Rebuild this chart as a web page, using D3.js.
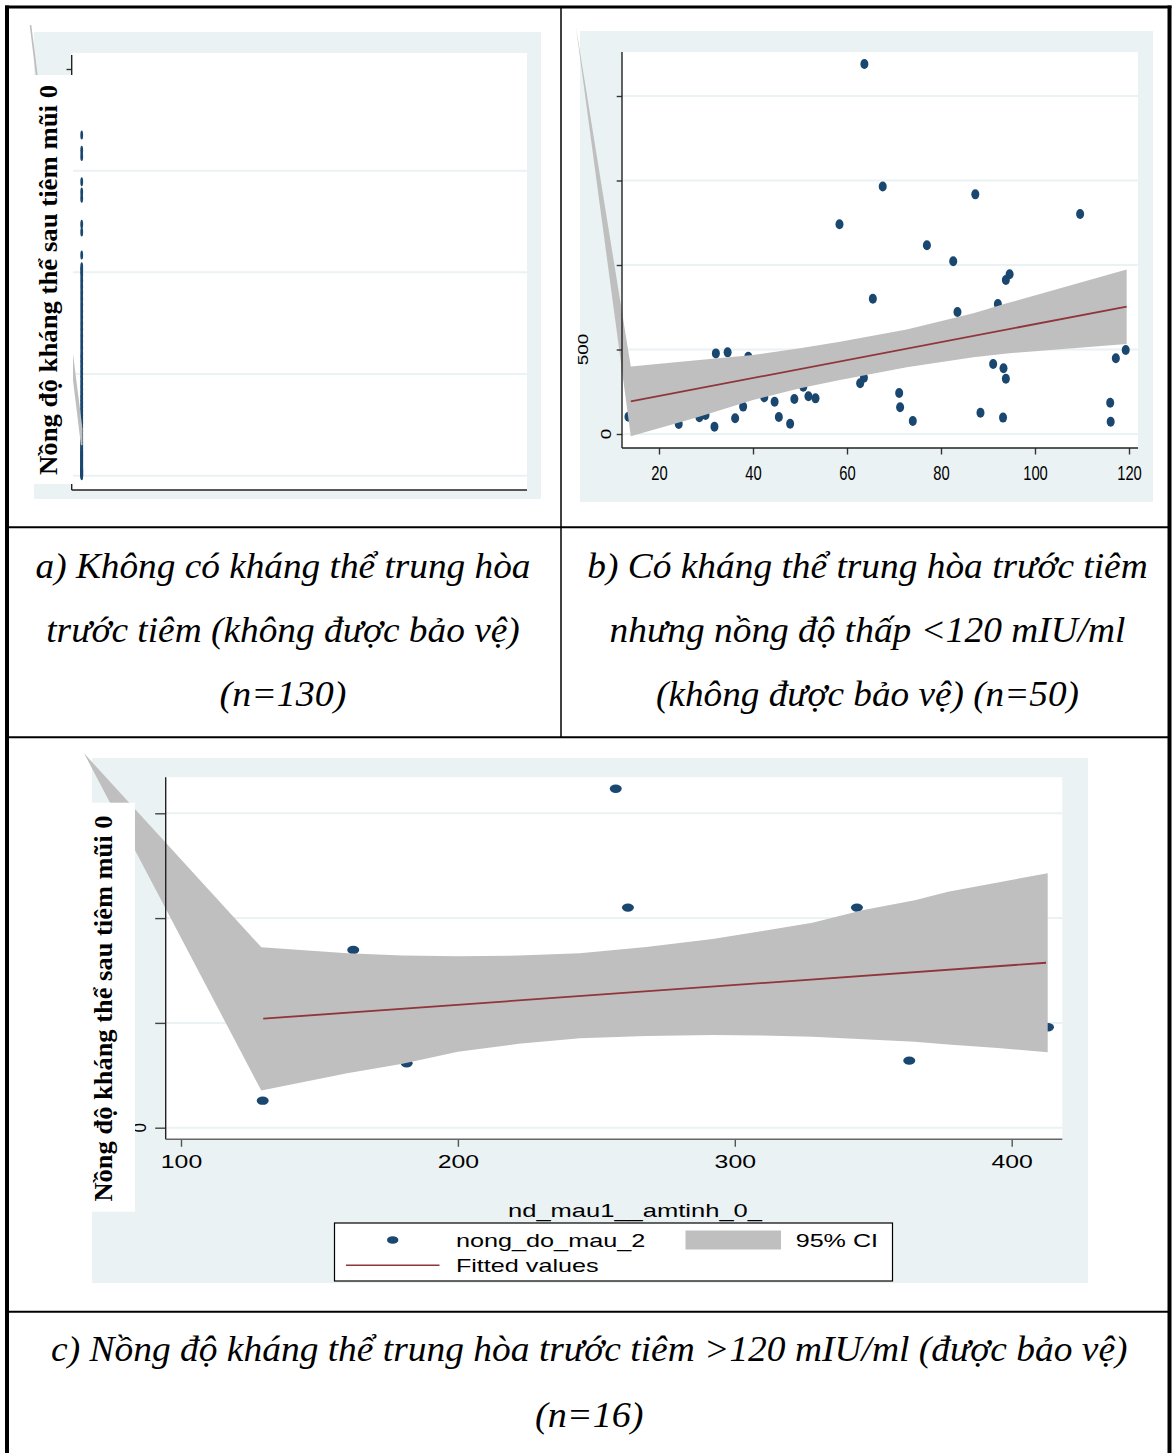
<!DOCTYPE html>
<html><head><meta charset="utf-8">
<script src="https://cdn.jsdelivr.net/npm/d3@7"></script>
<style>html,body{margin:0;padding:0;background:#fff;}svg{display:block;}</style>
</head><body>
<script>
// ================= DATA =================
// Panel a: pre-vaccination titre = 0 for everyone; post values
const aYTicks = [0, 500, 1000, 1500, 2000];
const aPre = 0;
const aPost = [0,5,10,15,20,25,30,40,50,60,70,80,90,100,110,120,135,150,165,180,200,220,240,260,280,300,320,340,360,380,400,425,450,475,500,525,550,575,600,630,660,690,720,750,780,810,840,870,900,930,960,990,1010,1027,1085,1198,1237,1364,1395,1445,1570,1600,1675];
const aBandX = [0];
const aBandUpper = [230];
const aBandLower = [150];
const aArtifact = [-0.115, 2216];

// Panel b
const bXTicks = [20, 40, 60, 80, 100, 120];
const bXLabels = ["20", "40", "60", "80", "100", "120"];
const bYTicks = [0, 500, 1000, 1500, 2000];
const bYLabels = ["0", "500", "", "", ""];
const bX = [63.7,67.6,87.3,109.6,58.4,77.0,82.6,94.6,93.8,65.5,92.1,83.5,119.3,32.1,34.6,39.0,117.2,91.1,93.3,93.8,63.6,62.8,71.1,116.0,71.3,88.4,93.2,74.0,116.1,44.6,48.8,51.8,53.3,45.5,47.9,37.9,36.2,31.8,28.6,29.9,24.2,42.4,50.7,13.5,26,33,45,55,68,80];
const bY = [2189,1464,1418,1302,1241,1117,1022,945,911,800,769,722,497,477,483,457,448,414,389,327,333,300,243,185,158,126,97,77,73,191,207,223,211,101,61,162,93,43,99,112,59,217,280,102,200,250,300,380,450,560];
const bBandX = [14, 28, 40, 50, 58.5, 72.7, 86.9, 94, 119.5];
const bBandUpper = [400, 437, 467, 507, 546, 619, 714, 773, 974];
const bBandLower = [-14, 97, 201, 270, 320, 395, 454, 477, 532];
const bFitX = [14, 119.5];
const bFitY = [193, 754];
const bArtifact = [2.3, 2414];

// Panel c
const cXTicks = [100, 200, 300, 400];
const cXLabels = ["100", "200", "300", "400"];
const cYTicks = [0, 500, 1000, 1500];
const cYLabels = ["0", "", "", ""];
const cX = [129.5,162.2,181.5,257.0,261.4,344.1,363.0,413.1,150,205,225,275,300,318,385,398];
const cY = [129,848,307,1617,1050,1050,320,479,560,470,640,560,720,500,660,540];
const cBandX = [129, 160, 180, 200, 222, 244, 268, 292, 310, 328, 346.5, 365, 377, 395, 413];
const cBandUpper = [861, 832, 822, 818, 821, 832, 862, 900, 938, 978, 1039, 1085, 1126, 1170, 1214];
const cBandLower = [177, 260, 305, 362, 400, 427, 437, 442, 440, 434, 422, 410, 397, 380, 360];
const cFitX = [129.7, 412.4];
const cFitY = [520, 787];
const cArtifact = [65, 1786];

// Texts
const yTitle = "Nồng độ kháng thể sau tiêm mũi 0";
const cXTitle = "nd_mau1__amtinh_0_";
const legendLabels = ["nong_do_mau_2", "95% CI", "Fitted values"];
const captionA = ["a) Không có kháng thể trung hòa", "trước tiêm (không được bảo vệ)", "(n=130)"];
const captionB = ["b) Có kháng thể trung hòa trước tiêm", "nhưng nồng độ thấp <120 mIU/ml", "(không được bảo vệ) (n=50)"];
const captionC = ["c) Nồng độ kháng thể trung hòa trước tiêm >120 mIU/ml (được bảo vệ)", "(n=16)"];

// ================= STYLE =================
const NAVY = "#1a476f", MAROON = "#90353b", BAND = "#bfbfbf", BG = "#eaf2f3", GRID = "#eaf2f3";
const SANS = "'Liberation Sans', Arial, sans-serif";
const SERIF = "'Liberation Serif', 'Times New Roman', serif";

const svg = d3.select("body").append("svg").attr("width", 1176).attr("height", 1453);
svg.append("rect").attr("width", 1176).attr("height", 1453).attr("fill", "#fff");

function bandPath(x, y, art, bx, up, lo) {
  const pts = [art].concat(d3.zip(bx, up), d3.zip(bx, lo).reverse());
  return d3.line().x(d => x(d[0])).y(d => y(d[1]))(pts) + "Z";
}

// ================= PANEL A =================
(function () {
  const L = { bx0: 34, by0: 32, bx1: 541, by1: 499, px0: 71.7, py0: 53, px1: 527, py1: 490 };
  const g = svg.append("g");
  g.append("rect").attr("x", L.bx0).attr("y", L.by0).attr("width", L.bx1 - L.bx0).attr("height", L.by1 - L.by0).attr("fill", BG);
  g.append("rect").attr("x", L.px0).attr("y", L.py0).attr("width", L.px1 - L.px0).attr("height", L.py1 - L.py0).attr("fill", "#fff");
  const x = d3.scaleLinear().domain([-0.0225, 1]).range([L.px0, L.px1]);
  const y = d3.scaleLinear().domain([0, 2000]).range([475.7, 69]);
  g.selectAll(".grid").data(aYTicks.slice(0, 4)).join("line")
    .attr("x1", L.px0).attr("x2", L.px1).attr("y1", d => y(d)).attr("y2", d => y(d))
    .attr("stroke", GRID).attr("stroke-width", 2);
  g.selectAll(".pt").data(aPost).join("ellipse")
    .attr("cx", x(aPre)).attr("cy", d => y(d)).attr("rx", 1.4).attr("ry", 4.5).attr("fill", NAVY);
  g.append("path").attr("d", bandPath(x, y, aArtifact, aBandX, aBandUpper, aBandLower))
    .attr("fill", BAND).attr("stroke", BAND).attr("stroke-width", 1.6);
  const ax = g.append("g").attr("transform", `translate(${L.px0},0)`)
    .call(d3.axisLeft(y).tickValues(aYTicks).tickSize(5.2).tickFormat(""));
  ax.select(".domain").remove();
  ax.selectAll("line").attr("stroke", "#333").attr("stroke-width", 1.4);
  g.append("line").attr("x1", L.px0).attr("x2", L.px0).attr("y1", 55).attr("y2", L.py1).attr("stroke", "#222").attr("stroke-width", 1.4);
  g.append("line").attr("x1", L.px0).attr("x2", L.px1).attr("y1", L.py1).attr("y2", L.py1).attr("stroke", "#222").attr("stroke-width", 1.4);
  // title box
  g.append("rect").attr("x", 34).attr("y", 75).attr("width", 39).attr("height", 409).attr("fill", "#fff");
  g.append("text").attr("transform", "translate(56.5,280) rotate(-90)")
    .attr("text-anchor", "middle").attr("font-family", SERIF).attr("font-weight", "bold").attr("font-size", 25)
    .attr("textLength", 390).attr("lengthAdjust", "spacingAndGlyphs").text(yTitle);
})();

// ================= PANEL B =================
(function () {
  const L = { bx0: 580, by0: 31, bx1: 1153, by1: 502, px0: 622, py0: 52, px1: 1138, py1: 448 };
  const g = svg.append("g");
  g.append("rect").attr("x", L.bx0).attr("y", L.by0).attr("width", L.bx1 - L.bx0).attr("height", L.by1 - L.by0).attr("fill", BG);
  g.append("rect").attr("x", L.px0).attr("y", L.py0).attr("width", L.px1 - L.px0).attr("height", L.py1 - L.py0).attr("fill", "#fff");
  const x = d3.scaleLinear().domain([20, 120]).range([659, 1129]);
  const y = d3.scaleLinear().domain([0, 2000]).range([434, 96]);
  g.selectAll(".grid").data(bYTicks).join("line")
    .attr("x1", L.px0).attr("x2", L.px1).attr("y1", d => y(d)).attr("y2", d => y(d))
    .attr("stroke", GRID).attr("stroke-width", 2);
  g.selectAll(".pt").data(d3.zip(bX, bY)).join("ellipse")
    .attr("cx", d => x(d[0])).attr("cy", d => y(d[1])).attr("rx", 4).attr("ry", 5).attr("fill", NAVY);
  g.append("path").attr("d", bandPath(x, y, bArtifact, bBandX, bBandUpper, bBandLower)).attr("fill", BAND);
  g.append("path").attr("d", d3.line().x(d => x(d[0])).y(d => y(d[1]))(d3.zip(bFitX, bFitY)))
    .attr("fill", "none").attr("stroke", MAROON).attr("stroke-width", 1.8);
  // axes
  const axx = g.append("g").attr("transform", `translate(0,${L.py1})`)
    .call(d3.axisBottom(x).tickValues(bXTicks).tickSize(6.5).tickFormat((d, i) => bXLabels[i]));
  axx.select(".domain").remove();
  axx.selectAll("line").attr("stroke", "#333").attr("stroke-width", 1.4);
  axx.selectAll("text").attr("y", 31.5).attr("dy", null).attr("fill", "#000")
    .attr("font-family", SANS).attr("font-size", 20)
    .attr("textLength", (d, i) => bXLabels[i].length * 8.2).attr("lengthAdjust", "spacingAndGlyphs");
  const axy = g.append("g").attr("transform", `translate(${L.px0},0)`)
    .call(d3.axisLeft(y).tickValues(bYTicks).tickSize(5.3).tickFormat(""));
  axy.select(".domain").remove();
  axy.selectAll("line").attr("stroke", "#333").attr("stroke-width", 1.4);
  const labelX = { "0": 610.5, "500": 587.5 };
  g.selectAll(".ylab").data(bYTicks.filter((d, i) => bYLabels[i] !== "")).join("text")
    .attr("transform", d => `translate(${labelX[bYLabels[bYTicks.indexOf(d)]]},${y(d)}) rotate(-90)`)
    .attr("text-anchor", "middle").attr("font-family", SANS).attr("font-size", 14)
    .attr("textLength", d => bYLabels[bYTicks.indexOf(d)].length * 10.5).attr("lengthAdjust", "spacingAndGlyphs")
    .text(d => bYLabels[bYTicks.indexOf(d)]);
  g.append("line").attr("x1", L.px0).attr("x2", L.px0).attr("y1", L.py0).attr("y2", L.py1).attr("stroke", "#222").attr("stroke-width", 1.4);
  g.append("line").attr("x1", L.px0).attr("x2", L.px1).attr("y1", L.py1).attr("y2", L.py1).attr("stroke", "#222").attr("stroke-width", 1.4);
})();

// ================= PANEL C =================
(function () {
  const L = { bx0: 92, by0: 758, bx1: 1088, by1: 1283, px0: 165.7, py0: 777.3, px1: 1062.3, py1: 1139.3 };
  const g = svg.append("g");
  g.append("rect").attr("x", L.bx0).attr("y", L.by0).attr("width", L.bx1 - L.bx0).attr("height", L.by1 - L.by0).attr("fill", BG);
  g.append("rect").attr("x", L.px0).attr("y", L.py0).attr("width", L.px1 - L.px0).attr("height", L.py1 - L.py0).attr("fill", "#fff");
  const x = d3.scaleLinear().domain([100, 400]).range([181, 1011.7]);
  const y = d3.scaleLinear().domain([0, 1500]).range([1127.7, 813.3]);
  g.selectAll(".grid").data(cYTicks).join("line")
    .attr("x1", L.px0).attr("x2", L.px1).attr("y1", d => y(d)).attr("y2", d => y(d))
    .attr("stroke", GRID).attr("stroke-width", 2);
  g.selectAll(".pt").data(d3.zip(cX, cY)).join("ellipse")
    .attr("cx", d => x(d[0])).attr("cy", d => y(d[1])).attr("rx", 6).attr("ry", 4.2).attr("fill", NAVY);
  g.append("path").attr("d", bandPath(x, y, cArtifact, cBandX, cBandUpper, cBandLower)).attr("fill", BAND);
  g.append("path").attr("d", d3.line().x(d => x(d[0])).y(d => y(d[1]))(d3.zip(cFitX, cFitY)))
    .attr("fill", "none").attr("stroke", MAROON).attr("stroke-width", 1.8);
  const axx = g.append("g").attr("transform", `translate(0,${L.py1})`)
    .call(d3.axisBottom(x).tickValues(cXTicks).tickSize(7.5).tickFormat((d, i) => cXLabels[i]));
  axx.select(".domain").remove();
  axx.selectAll("line").attr("stroke", "#555").attr("stroke-width", 1.4);
  axx.selectAll("text").attr("y", 29).attr("dy", null).attr("fill", "#000")
    .attr("font-family", SANS).attr("font-size", 18.6)
    .attr("textLength", (d, i) => cXLabels[i].length * 13.8).attr("lengthAdjust", "spacingAndGlyphs");
  const axy = g.append("g").attr("transform", `translate(${L.px0},0)`)
    .call(d3.axisLeft(y).tickValues(cYTicks).tickSize(10.5).tickFormat(""));
  axy.select(".domain").remove();
  axy.selectAll("line").attr("stroke", "#444").attr("stroke-width", 1.4);
  g.selectAll(".ylab").data(cYTicks.filter((d, i) => cYLabels[i] !== "")).join("text")
    .attr("transform", d => `translate(145.5,${y(d)}) rotate(-90)`)
    .attr("text-anchor", "middle").attr("font-family", SANS).attr("font-size", 18)
    .attr("textLength", 9.5).attr("lengthAdjust", "spacingAndGlyphs")
    .text(d => cYLabels[cYTicks.indexOf(d)]);
  g.append("line").attr("x1", L.px0).attr("x2", L.px0).attr("y1", L.py0).attr("y2", L.py1).attr("stroke", "#222").attr("stroke-width", 1.4);
  g.append("line").attr("x1", L.px0).attr("x2", L.px1).attr("y1", L.py1).attr("y2", L.py1).attr("stroke", "#666").attr("stroke-width", 1.6);
  // legend
  const lg = g.append("g");
  lg.append("rect").attr("x", 334.5).attr("y", 1223).attr("width", 558).attr("height", 58)
    .attr("fill", "#fff").attr("stroke", "#000").attr("stroke-width", 1.2);
  lg.append("ellipse").attr("cx", 392.7).attr("cy", 1240).attr("rx", 5.7).attr("ry", 3.8).attr("fill", NAVY);
  lg.append("rect").attr("x", 685.5).attr("y", 1230.5).attr("width", 95.5).attr("height", 19).attr("fill", BAND);
  lg.append("line").attr("x1", 346).attr("x2", 439.5).attr("y1", 1265.3).attr("y2", 1265.3).attr("stroke", MAROON).attr("stroke-width", 1.6);
  const lt = [[455.9, 1246.5, 189.4], [795.7, 1246.5, 82.3], [455.9, 1272, 142.7]];
  lg.selectAll(".lt").data(legendLabels).join("text")
    .attr("x", (d, i) => lt[i][0]).attr("y", (d, i) => lt[i][1])
    .attr("font-family", SANS).attr("font-size", 18.5)
    .attr("textLength", (d, i) => lt[i][2]).attr("lengthAdjust", "spacingAndGlyphs").text(d => d);
  // x title (drawn after legend so underscores stay visible)
  g.append("text").attr("x", 635).attr("y", 1217).attr("text-anchor", "middle")
    .attr("font-family", SANS).attr("font-size", 19).attr("textLength", 254).attr("lengthAdjust", "spacingAndGlyphs")
    .text(cXTitle);
  // title box
  g.append("rect").attr("x", 92).attr("y", 802.7).attr("width", 43).attr("height", 409).attr("fill", "#fff");
  g.append("text").attr("transform", "translate(112,1008.5) rotate(-90)")
    .attr("text-anchor", "middle").attr("font-family", SERIF).attr("font-weight", "bold").attr("font-size", 26)
    .attr("textLength", 386).attr("lengthAdjust", "spacingAndGlyphs").text(yTitle);
})();

// ================= CAPTIONS =================
function caption(lines, cx, ys, widths) {
  svg.selectAll(null).data(lines).join("text")
    .attr("x", cx).attr("y", (d, i) => ys[i]).attr("text-anchor", "middle")
    .attr("font-family", SERIF).attr("font-style", "italic").attr("font-size", 36)
    .attr("textLength", (d, i) => widths[i]).attr("lengthAdjust", "spacingAndGlyphs")
    .text(d => d);
}
caption(captionA, 283, [578, 642, 706], [495, 473.5, 126.8]);
caption(captionB, 867.5, [578, 642, 706], [560.4, 516, 423]);
caption(captionC, 589.3, [1361, 1427], [1076.5, 108.6]);

// ================= TABLE BORDERS =================
const bd = svg.append("g").attr("stroke", "#000").attr("fill", "none");
bd.append("line").attr("x1", 5).attr("x2", 1171.5).attr("y1", 7).attr("y2", 7).attr("stroke-width", 3);
bd.append("line").attr("x1", 7).attr("x2", 7).attr("y1", 5.5).attr("y2", 1453).attr("stroke-width", 4);
bd.append("line").attr("x1", 1169.5).attr("x2", 1169.5).attr("y1", 5.5).attr("y2", 1453).attr("stroke-width", 4);
[527.3, 737.3, 1311.7].forEach(v => bd.append("line").attr("x1", 7).attr("x2", 1169.5).attr("y1", v).attr("y2", v).attr("stroke-width", 2));
bd.append("line").attr("x1", 561).attr("x2", 561).attr("y1", 7).attr("y2", 737.3).attr("stroke-width", 1.5);
</script>
</body></html>
